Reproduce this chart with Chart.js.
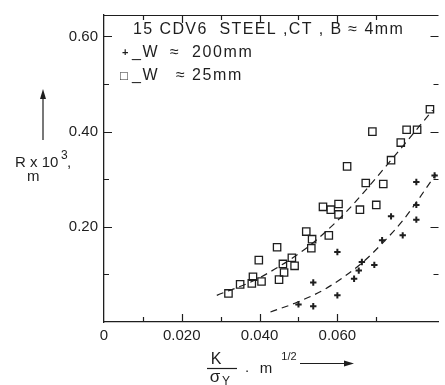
<!DOCTYPE html>
<html>
<head>
<meta charset="utf-8">
<script src="https://cdn.jsdelivr.net/npm/chart.js@4.4.1/dist/chart.umd.min.js"></script>
<style>
html,body{margin:0;padding:0;background:#fff;overflow:hidden;}
#wrap{width:445px;height:385px;position:relative;}
</style>
</head>
<body>
<div id="wrap"><canvas id="c" width="445" height="385"></canvas></div>
<script>
// ---- data ----
const squaresX = [0.0320,0.0350,0.0380,0.0383,0.0405,0.0398,0.0445,0.0450,0.0463,0.0460,0.0483,0.0490,0.0520,0.0535,0.0533,0.0578,0.0563,0.0583,0.0603,0.0603,0.0658,0.0700,0.0625,0.0673,0.0718,0.0738,0.0763,0.0690,0.0778,0.0805,0.0838];
const squaresY = [0.060,0.079,0.081,0.095,0.085,0.130,0.157,0.089,0.104,0.122,0.135,0.118,0.190,0.174,0.155,0.182,0.242,0.236,0.248,0.226,0.236,0.246,0.327,0.292,0.290,0.340,0.377,0.400,0.404,0.404,0.447];
const crossesX = [0.0500,0.0538,0.0538,0.0600,0.0600,0.0643,0.0655,0.0663,0.0695,0.0715,0.0738,0.0768,0.0803,0.0803,0.0803,0.0850];
const crossesY = [0.037,0.083,0.033,0.147,0.056,0.091,0.108,0.126,0.120,0.172,0.222,0.182,0.246,0.215,0.294,0.308];
const fitSquaresX = [0.029,0.0395,0.052,0.0565,0.0628,0.0738,0.0845];
const fitSquaresY = [0.056,0.091,0.155,0.186,0.236,0.340,0.445];
const fitCrossesX = [0.0428,0.0495,0.057,0.0663,0.0715,0.077,0.0853];
const fitCrossesY = [0.021,0.041,0.070,0.124,0.165,0.215,0.310];
const xTickLabels = ['0','0.020','0.040','0.060','0.080'];
const yTickLabels = ['0.20','0.40','0.60'];
const titleText = '15 CDV6  STEEL ,CT , B \u2248 4mm';
const legendWidths = ['200mm', '25mm'];

const ink = '#1e1e1e';
const FONT = '"Liberation Sans", Arial, sans-serif';
const pts = (xs, ys) => xs.map((v, i) => ({x: v, y: ys[i]}));
const near = (v, step) => Math.abs(v / step - Math.round(v / step)) < 1e-6;

const decor = {
  id: 'decor',
  afterDraw(chart) {
    const ctx = chart.ctx;
    const {left, right, top, bottom} = chart.chartArea;
    const xs = chart.scales.x, ys = chart.scales.y;
    ctx.save();
    ctx.strokeStyle = ink; ctx.fillStyle = ink; ctx.lineWidth = 1.2;
    // top frame line
    ctx.beginPath(); ctx.moveTo(left, top + 0.5); ctx.lineTo(right, top + 0.5); ctx.stroke();
    // inward ticks
    ctx.beginPath();
    xs.ticks.forEach(t => {
      if (!near(t.value, 0.01) || t.value <= 0) return;
      const len = near(t.value, 0.02) ? 8 : 5;
      const p = Math.round(xs.getPixelForValue(t.value)) + 0.5;
      ctx.moveTo(p, bottom); ctx.lineTo(p, bottom - len);
      ctx.moveTo(p, top); ctx.lineTo(p, top + len);
    });
    ys.ticks.forEach(t => {
      if (!near(t.value, 0.1) || t.value <= 0) return;
      const len = near(t.value, 0.2) ? 8 : 5;
      const p = Math.round(ys.getPixelForValue(t.value)) + 0.5;
      ctx.moveTo(left, p); ctx.lineTo(left + len, p);
      ctx.moveTo(right, p); ctx.lineTo(right - len, p);
    });
    ctx.stroke();

    // legend / title text inside plot
    const hasLS = ('letterSpacing' in ctx);
    ctx.textBaseline = 'middle'; ctx.textAlign = 'left';
    ctx.font = '16px ' + FONT;
    if (hasLS) ctx.letterSpacing = '1.4px';
    ctx.fillText(titleText, 133, 30);
    if (hasLS) ctx.letterSpacing = '1.6px';
    [[53, legendWidths[0], 170], [76, legendWidths[1], 176]].forEach(([yy, w, ax]) => {
      ctx.fillText('_W', 132, yy);
      ctx.fillText('\u2248', ax, yy);
      ctx.fillText(w, 192, yy);
    });
    if (hasLS) ctx.letterSpacing = '0px';
    // legend markers
    ctx.font = 'bold 11px ' + FONT;
    ctx.fillText('+', 122, 53);
    ctx.font = '13px ' + FONT;
    ctx.fillText('\u25A1', 120, 76);

    // y-axis title
    ctx.beginPath(); ctx.moveTo(43, 140); ctx.lineTo(43, 96); ctx.stroke();
    ctx.beginPath(); ctx.moveTo(43, 89); ctx.lineTo(40, 99); ctx.lineTo(46, 99); ctx.closePath(); ctx.fill();
    ctx.textBaseline = 'alphabetic';
    ctx.font = '15px ' + FONT;
    ctx.fillText('R x 10', 15, 167);
    ctx.font = '12px ' + FONT;
    ctx.fillText('3', 61, 159);
    ctx.font = '15px ' + FONT;
    ctx.fillText(',', 67, 167);
    ctx.fillText('m', 27, 181);

    // x-axis title
    ctx.font = '16px ' + FONT;
    ctx.textAlign = 'center';
    ctx.fillText('K', 216, 364);
    ctx.beginPath(); ctx.moveTo(207, 368.5); ctx.lineTo(237, 368.5); ctx.stroke();
    ctx.font = '17px ' + FONT;
    ctx.fillText('\u03C3', 215, 382);
    ctx.font = '12px ' + FONT;
    ctx.fillText('Y', 226, 385);
    ctx.font = '15px ' + FONT;
    ctx.fillText('.', 247, 372);
    ctx.fillText('m', 266, 373);
    ctx.font = '11px ' + FONT;
    ctx.fillText('1/2', 289, 360);
    ctx.beginPath(); ctx.moveTo(300, 363.5); ctx.lineTo(346, 363.5); ctx.stroke();
    ctx.beginPath(); ctx.moveTo(354, 363.5); ctx.lineTo(344, 360.5); ctx.lineTo(344, 366.5); ctx.closePath(); ctx.fill();
    ctx.restore();
  }
};

new Chart(document.getElementById('c'), {
  type: 'scatter',
  data: {
    datasets: [
      { label: 'W 25mm', data: pts(squaresX, squaresY), pointStyle: 'rect', pointRadius: 5.2,
        borderColor: ink, backgroundColor: 'rgba(0,0,0,0)', pointBorderWidth: 1.3 },
      { label: 'W 200mm', data: pts(crossesX, crossesY), pointStyle: 'cross', pointRadius: 3.2,
        borderColor: ink, backgroundColor: ink, pointBorderWidth: 2 },
      { label: 'fit 25', data: pts(fitSquaresX, fitSquaresY), showLine: true, pointRadius: 0,
        borderColor: ink, borderWidth: 1.2, borderDash: [7, 5], cubicInterpolationMode: 'monotone' },
      { label: 'fit 200', data: pts(fitCrossesX, fitCrossesY), showLine: true, pointRadius: 0,
        borderColor: ink, borderWidth: 1.2, borderDash: [7, 5], cubicInterpolationMode: 'monotone' }
    ]
  },
  options: {
    responsive: false, animation: false, devicePixelRatio: 1,
    layout: { padding: { top: 10, right: 0, left: 0, bottom: 0 } },
    plugins: { legend: { display: false }, tooltip: { enabled: false } },
    scales: {
      x: {
        type: 'linear', min: 0, max: 0.086,
        afterFit: s => { s.height = 63; },
        grid: { drawOnChartArea: false, drawTicks: false },
        border: { display: true, color: ink, width: 1.3 },
        ticks: {
          stepSize: 0.01, padding: 5, color: ink, autoSkip: false, maxRotation: 0,
          font: { family: FONT, size: 15 },
          callback: v => { const i = Math.round(v / 0.02); return near(v, 0.02) && i < xTickLabels.length ? xTickLabels[i] : ''; }
        }
      },
      y: {
        type: 'linear', min: 0, max: 0.645,
        afterFit: s => { s.width = 104; },
        grid: { drawOnChartArea: false, drawTicks: false },
        border: { display: true, color: ink, width: 1.3 },
        ticks: {
          stepSize: 0.1, padding: 6, color: ink, autoSkip: false,
          font: { family: FONT, size: 15 },
          callback: v => { const i = Math.round(v / 0.2); return near(v, 0.2) && i >= 1 && i <= yTickLabels.length ? yTickLabels[i - 1] : ''; }
        }
      }
    }
  },
  plugins: [decor]
});
</script>
</body>
</html>
